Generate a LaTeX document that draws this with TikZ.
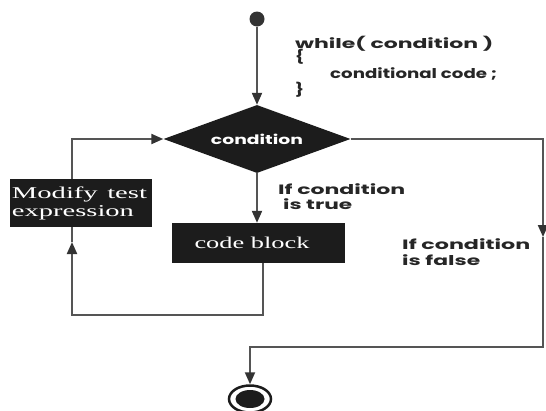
\documentclass[tikz,border=0pt]{standalone}
\usepackage{fontspec}
\usepackage{graphicx}
\usetikzlibrary{shapes.geometric,arrows.meta}
\newfontfamily\gsans{Poppins}
\newfontfamily\wserif{Liberation Serif}
\newcommand\fitw[2]{\resizebox{#1}{\height}{#2}}
\definecolor{ln}{HTML}{555555}
\definecolor{arrc}{HTML}{333333}
\definecolor{blk}{HTML}{1C1C1C}
\begin{document}
\begin{tikzpicture}[x=1pt,y=-1pt,
  conn/.style={draw=ln, line width=2pt},
  arr/.style={conn, -{Triangle[width=10pt,length=12pt,color=arrc]}},
  boxblk/.style={rectangle, fill=blk, text=white},
  lbl/.style={inner sep=0pt, anchor=base west, text=black!85},
  sansf/.style={font=\gsans\bfseries\fontsize{13.5}{15.5}\selectfont}
]
\fill[white] (0,0) rectangle (546,410);
\useasboundingbox (0,0) rectangle (546,410);

% start
\node[circle, fill=arrc, minimum size=15pt, inner sep=0pt] (start) at (257,19) {};
% decision
\node[diamond, fill=blk, minimum width=187pt, minimum height=68pt, inner sep=0pt,
      shape aspect=2.75, text=white, font=\gsans\bfseries\fontsize{13}{14}\selectfont] (cond) at (257,139) {\fitw{92pt}{condition}};
% code block
\node[boxblk, inner sep=0pt, minimum width=173pt, minimum height=40pt,
      font=\wserif\fontsize{16.5}{18}\selectfont] (code) at (258.5,243) {\fitw{115pt}{code block}\hspace*{13pt}};
% modify box
\node[boxblk, inner xsep=2pt, inner ysep=0pt, text width=138pt, minimum height=48pt, align=left,
      font=\wserif\fontsize{16.5}{18}\selectfont] (mod) at (81,203) {\fitw{135pt}{Modify test}\\\fitw{122pt}{expression}};
% end
\node[ellipse, draw=blk, line width=2.5pt, minimum width=42pt, minimum height=27pt, inner sep=0pt] (endo) at (250,399) {};
\node[ellipse, fill=blk, minimum width=29pt, minimum height=18pt, inner sep=0pt] (endi) at (endo) {};

% texts
\node[lbl, sansf] (w1) at (295,48) {\fitw{198pt}{while( condition )}};
\node[lbl, sansf] (w2) at (295,61) {\fitw{9pt}{\{}};
\node[lbl, sansf] (w3) at (330,78) {\fitw{167pt}{conditional code ;}};
\node[lbl, sansf] (w4) at (295,94) {\fitw{9pt}{\}}};
\node[lbl, sansf] (t1) at (278,194) {\fitw{127pt}{If condition}};
\node[lbl, sansf] (t2) at (283,209) {\fitw{69pt}{is true}};
\node[lbl, sansf] (f1) at (402,249) {\fitw{128pt}{If condition}};
\node[lbl, sansf] (f2) at (402,265) {\fitw{78pt}{is false}};

% coordinates
\coordinate (rt) at (543,139);
\coordinate (fa) at (543,237);
\coordinate (rb) at (543,347);
\coordinate (eb) at (250,347);
\coordinate (lt) at (72,139);
\coordinate (lb) at (72,315);
\coordinate (ma) at (72,242);
\coordinate (cbx) at (263,315);

% connectors
\draw[arr] (start) -- (cond.north);
\draw[arr] (cond.south) -- (code.north -| cond.south);
\draw[arr] (cond.east) -- (rt) -- (fa);
\draw[arr] (fa) -- (rb) -- (eb) -- (endo.north);
\draw[arr] (code.south -| cbx) -- (cbx) -- (lb) -- (ma);
\draw[conn] (ma) -- (mod.south -| ma);
\draw[arr] (mod.north -| lt) -- (lt) -- (cond.west);
\end{tikzpicture}
\end{document}
